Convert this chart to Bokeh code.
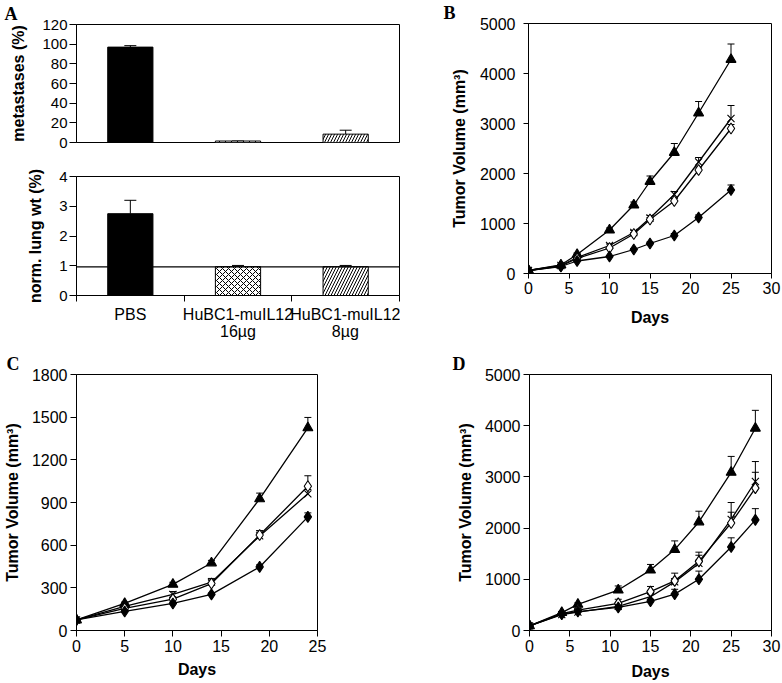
from bokeh.plotting import figure
from bokeh.layouts import row, column
from bokeh.models import (ColumnDataSource, Whisker, TeeHead, Span,
                          FixedTicker, Range1d, SingleIntervalTicker)
from bokeh.embed import file_html
from bokeh.resources import INLINE

FONT = "Liberation Sans"
LETTER_FONT = "Liberation Serif"

# ---------------- Panel A data ----------------
groups = ["PBS", "HuBC1-muIL12\n16µg", "HuBC1-muIL12\n8µg"]
metastases = [97, 1.5, 8.5]
metastases_err = [1.5, 0, 4]
lung_wt = [2.75, 0.97, 0.97]
lung_wt_err = [0.45, 0.04, 0.04]
normal_lung_wt = 0.96

# ---------------- Panel B data ----------------
days_b = [0, 4, 6, 10, 13, 15, 18, 21, 25]
tri_b = [60, 170, 380, 870, 1370, 1840, 2420, 3210, 4280]
tri_b_err = [0, 20, 30, 40, 60, 110, 180, 230, 310]
x_b = [60, 160, 320, 560, 820, 1110, 1580, 2230, 3100]
x_b_err = [0, 10, 20, 30, 40, 50, 60, 90, 260]
od_b = [60, 150, 300, 510, 790, 1080, 1450, 2070, 2900]
od_b_err = [0, 10, 15, 20, 30, 40, 50, 60, 80]
fd_b = [60, 140, 250, 340, 480, 600, 760, 1120, 1670]
fd_b_err = [0, 10, 10, 20, 20, 30, 40, 50, 100]

# ---------------- Panel C data ----------------
days_c = [0, 5, 10, 14, 19, 24]
tri_c = [74, 190, 324, 475, 926, 1425]
tri_c_err = [0, 10, 15, 18, 40, 73]
x_c = [74, 170, 254, 340, 665, 961]
x_c_err = [0, 10, 20, 26, 37, 30]
od_c = [74, 155, 220, 330, 671, 1014]
od_c_err = [0, 10, 15, 20, 30, 74]
fd_c = [74, 134, 190, 254, 447, 799]
fd_c_err = [0, 5, 10, 10, 15, 28]

# ---------------- Panel D data ----------------
days_d = [0, 4, 6, 11, 15, 18, 21, 25, 28]
tri_d = [90, 350, 510, 790, 1180, 1580, 2120, 3090, 3950]
tri_d_err = [0, 20, 30, 80, 110, 170, 210, 310, 350]
x_d = [90, 310, 360, 470, 660, 950, 1310, 2170, 2910]
x_d_err = [0, 20, 20, 40, 50, 60, 160, 140, 180]
od_d = [90, 330, 400, 530, 760, 970, 1350, 2100, 2780]
od_d_err = [0, 20, 30, 80, 100, 150, 180, 400, 520]
fd_d = [90, 320, 370, 450, 570, 710, 1000, 1630, 2160]
fd_d_err = [0, 20, 20, 30, 40, 95, 160, 180, 220]

# styles
bar_fill = ["black", "white", "white"]
bar_hatch = [" ", "x", "/"]
marker_styles = [("triangle", "black", 10), ("x", "black", 10),
                 ("diamond", "white", 11), ("diamond", "black", 11)]


def style_axes(p, tick_font="16px", tick_out=6, tick_standoff=3, label_standoff=8):
    p.grid.visible = False
    p.outline_line_color = "black"
    p.outline_line_alpha = 1
    p.outline_line_width = 1
    for ax in p.axis:
        ax.axis_line_color = "black"
        ax.axis_line_width = 1
        ax.major_tick_line_color = "black"
        ax.major_tick_in = 0
        ax.major_tick_out = tick_out
        ax.minor_tick_line_color = None
        ax.major_label_text_font = FONT
        ax.major_label_text_font_size = tick_font
        ax.major_label_text_color = "black"
        ax.major_label_standoff = tick_standoff
        ax.axis_label_text_font = FONT
        ax.axis_label_text_font_size = "16px"
        ax.axis_label_text_font_style = "bold"
        ax.axis_label_text_color = "black"
        ax.axis_label_standoff = label_standoff


def letter(p, text, offset, standoff):
    t = p.title
    t.text = text
    t.align = "left"
    t.offset = offset
    t.standoff = standoff
    t.text_font = LETTER_FONT
    t.text_font_style = "bold"
    t.text_font_size = "18px"
    t.text_color = "black"
    t.vertical_align = "bottom"


def bars(p, values, errs, head):
    xs = [i + 0.5 for i in range(len(groups))]
    src = ColumnDataSource(dict(x=xs, top=values,
                                up=[v + e for v, e in zip(values, errs)],
                                fill=bar_fill, hatch=bar_hatch))
    p.vbar(x="x", top="top", width=0.42, source=src, fill_color="fill",
           line_color="black", line_width=1, hatch_pattern="hatch",
           hatch_color="black", hatch_scale=6, hatch_weight=1)
    p.add_layout(Whisker(source=src, base="x", lower="top", upper="up",
                         line_color="black", line_width=1, lower_head=None,
                         upper_head=TeeHead(size=head, line_color="black", line_width=1)))


# ---------------- A top ----------------
a1 = figure(width=400, height=160, x_range=Range1d(0, len(groups)),
            y_range=Range1d(0, 120), x_axis_location=None,
            output_backend="svg", toolbar_location=None,
            min_border_left=76, min_border_right=1, min_border_top=24,
            min_border_bottom=18)
bars(a1, metastases, metastases_err, 12)
a1.yaxis.ticker = SingleIntervalTicker(interval=20, num_minor_ticks=0)
a1.yaxis.axis_label = "metastases (%)"
style_axes(a1, tick_font="15px", tick_out=7, tick_standoff=2, label_standoff=12)
letter(a1, "A", -72, 1)

# ---------------- A bottom ----------------
a2 = figure(width=400, height=190, x_range=Range1d(0, len(groups)),
            y_range=Range1d(0, 4), output_backend="svg", toolbar_location=None,
            min_border_left=76, min_border_right=1, min_border_top=16,
            min_border_bottom=55)
bars(a2, lung_wt, lung_wt_err, 12)
a2.add_layout(Span(location=normal_lung_wt, dimension="width",
                   line_color="black", line_width=1.2))
a2.yaxis.ticker = SingleIntervalTicker(interval=1, num_minor_ticks=0)
a2.yaxis.axis_label = "norm. lung wt (%)"
centers = [i + 0.5 for i in range(len(groups))]
a2.xaxis.ticker = FixedTicker(ticks=centers,
                              minor_ticks=list(range(len(groups) + 1)))
a2.xaxis.major_label_overrides = {c: g for c, g in zip(centers, groups)}
style_axes(a2, tick_font="15px", tick_out=7, tick_standoff=2, label_standoff=12)
a2.xaxis.major_tick_line_color = None
a2.xaxis.major_tick_out = 0
a2.xaxis.minor_tick_line_color = "black"
a2.xaxis.minor_tick_out = 6
a2.xaxis.minor_tick_in = 0
a2.xaxis.major_label_standoff = 4
a2.xaxis.major_label_text_font_size = "16px"
a2.xaxis.major_label_text_line_height = 1.05


# ---------------- growth panels ----------------
def growth(days, series, x_end, y_end, y_step, width, height, borders):
    left, right, top, bottom = borders
    p = figure(width=width, height=height, x_range=Range1d(0, x_end),
               y_range=Range1d(0, y_end), output_backend="svg",
               toolbar_location=None, min_border_left=left,
               min_border_right=right, min_border_top=top,
               min_border_bottom=bottom)
    for (vals, errs), (marker, fill, size) in zip(series, marker_styles):
        src = ColumnDataSource(dict(x=days, y=vals,
                                    up=[v + e for v, e in zip(vals, errs)]))
        p.line("x", "y", source=src, line_color="black", line_width=1.3)
        w = Whisker(source=src, base="x", lower="y", upper="up",
                    line_color="black", line_width=1, lower_head=None,
                    upper_head=TeeHead(size=7, line_color="black", line_width=1))
        w.level = "underlay"
        p.add_layout(w)
        p.scatter("x", "y", source=src, marker=marker, size=size,
                  fill_color=fill, line_color="black", line_width=1.1)
    p.xaxis.ticker = SingleIntervalTicker(interval=5, num_minor_ticks=0)
    p.yaxis.ticker = SingleIntervalTicker(interval=y_step, num_minor_ticks=0)
    p.xaxis.axis_label = "Days"
    p.yaxis.axis_label = "Tumor Volume (mm³)"
    return p


pB = growth(days_b, [(tri_b, tri_b_err), (x_b, x_b_err), (od_b, od_b_err), (fd_b, fd_b_err)],
            30, 5000, 1000, 382, 350, (128, 11, 23, 77))
style_axes(pB, tick_out=5, tick_standoff=3, label_standoff=12)
pB.yaxis.major_label_standoff = 8
pB.yaxis.axis_label_standoff = 9
letter(pB, "B", -85, 1)

pC = growth(days_c, [(tri_c, tri_c_err), (x_c, x_c_err), (od_c, od_c_err), (fd_c, fd_c_err)],
            25, 1800, 300, 400, 333, (75, 83, 24, 50))
style_axes(pC, tick_out=6, tick_standoff=3, label_standoff=6)
pC.yaxis.axis_label_standoff = 8
letter(pC, "C", -70, 1)

pD = growth(days_d, [(tri_d, tri_d_err), (x_d, x_d_err), (od_d, od_d_err), (fd_d, fd_d_err)],
            30, 5000, 1000, 382, 333, (129, 11, 22, 53))
style_axes(pD, tick_out=6, tick_standoff=3, label_standoff=8)
pD.yaxis.axis_label_standoff = 8
letter(pD, "D", -77, 1)

layout = column(row(column(a1, a2, spacing=0), pB, spacing=0),
                row(pC, pD, spacing=0), spacing=0)

open("out.html", "w").write(file_html(layout, INLINE))
